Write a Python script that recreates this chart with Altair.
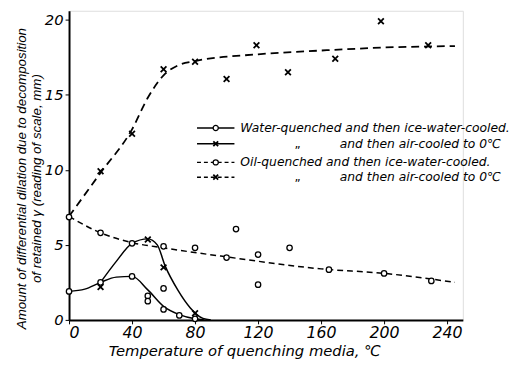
import altair as alt
import pandas as pd

# --- measured points (x: temperature °C, y: dilation mm) ---
wi_x = [0, 20, 40, 50, 50, 60, 60, 70, 80]
wi_y = [1.9, 2.5, 2.9, 1.6, 1.25, 2.1, 0.7, 0.3, 0.07]
wa_x = [20, 50, 60, 80]
wa_y = [2.2, 5.35, 3.5, 0.45]
oi_x = [0, 20, 40, 60, 80, 100, 106, 120, 120, 140, 165, 200, 230]
oi_y = [6.85, 5.8, 5.1, 4.9, 4.8, 4.15, 6.05, 4.35, 2.35, 4.8, 3.35, 3.1, 2.6]
oa_x = [20, 40, 60, 80, 100, 119, 139, 169, 198, 228]
oa_y = [9.9, 12.4, 16.7, 17.2, 16.05, 18.3, 16.5, 17.4, 19.9, 18.3]

# --- drawn curves ---
wi_cx = [0, 10, 20, 30, 40, 50, 60, 70, 80, 86]
wi_cy = [1.9, 2.05, 2.5, 2.85, 2.9, 2.0, 0.9, 0.35, 0.07, 0.0]
wa_cx = [20, 30, 40, 50, 56, 61, 69, 77, 85, 90]
wa_cy = [2.5, 3.9, 5.1, 5.4, 5.0, 3.6, 2.0, 0.8, 0.1, 0.0]
oi_cx = [0, 20, 40, 60, 100, 160, 200, 245]
oi_cy = [6.9, 5.8, 5.15, 4.8, 4.2, 3.4, 3.1, 2.5]
oa_cx = [0, 20, 40, 50, 60, 70, 80, 120, 160, 200, 245]
oa_cy = [6.9, 9.8, 12.7, 14.8, 16.3, 17.0, 17.25, 17.7, 17.95, 18.15, 18.25]

FONT = "DejaVu Sans"
XMARK = "M-1,-1L1,1M-1,1L1,-1"
X = alt.Scale(domain=[0, 250], nice=False)
Y = alt.Scale(domain=[0, 20.6], nice=False)

def df(xs, ys):
    return pd.DataFrame({"t": xs, "v": ys})

xenc = alt.X("t:Q", scale=X, axis=alt.Axis(
    values=[0, 40, 80, 120, 160, 200, 240], grid=False,
    title="Temperature of quenching media,  ℃", titleFont=FONT, titleFontStyle="italic",
    titleFontWeight="normal", titleFontSize=15, titlePadding=3, titleX=178,
    labelFont=FONT, labelFontStyle="italic", labelFontSize=16, labelPadding=1,
    tickSize=4, tickColor="black", domainColor="black", domainWidth=2,
    labelColor="black", titleColor="black"))
yenc = alt.Y("v:Q", scale=Y, axis=alt.Axis(
    values=[0, 5, 10, 15, 20], grid=False,
    title=["Amount of differential dilation due to decomposition",
           "of retained γ  (reading of scale, mm)"],
    titleFont="Liberation Sans", titleFontStyle="italic", titleFontWeight="normal",
    titleFontSize=13.5, titleLineHeight=15, titleX=-44, titleY=170,
    titleAngle=-90, titleAlign="center", titleBaseline="alphabetic",
    labelFont=FONT, labelFontStyle="italic", labelFontSize=15, labelPadding=2,
    tickSize=4, tickColor="black", domainColor="black", domainWidth=2,
    labelColor="black", titleColor="black"))

def curve(xs, ys, dash=None, width=1.5):
    kw = dict(color="black", strokeWidth=width, interpolate="monotone")
    if dash:
        kw["strokeDash"] = dash
    return alt.Chart(df(xs, ys)).mark_line(**kw).encode(x=xenc, y=yenc)

def circles(xs, ys):
    return alt.Chart(df(xs, ys)).mark_point(shape="circle", size=30, color="black",
                                           strokeWidth=1.3, fill="white", filled=False,
                                           opacity=1).encode(x=xenc, y=yenc)

def crosses(xs, ys):
    return alt.Chart(df(xs, ys)).mark_point(shape=XMARK, size=34, color="black",
                                           strokeWidth=1.8, filled=False,
                                           opacity=1).encode(x=xenc, y=yenc)

layers = [
    curve(wi_cx, wi_cy), curve(wa_cx, wa_cy),
    curve(oi_cx, oi_cy, dash=[6, 4]), curve(oa_cx, oa_cy, dash=[8, 5], width=1.8),
    circles(wi_x, wi_y), crosses(wa_x, wa_y), circles(oi_x, oi_y), crosses(oa_x, oa_y),
]

# --- hand-drawn style legend (pixel positions inside plot) ---
leg_rows = [
    ("Water-quenched and then ice-water-cooled.", None, "o", None),
    ("and then air-cooled to 0℃", "„", "x", None),
    ("Oil-quenched and then ice-water-cooled.", None, "o", [4, 3]),
    ("and then air-cooled to 0℃", "„", "x", [4, 3]),
]
row_y = [119, 135, 154, 169]
one = pd.DataFrame({"a": [0]})
for (txt, ditto, sym, dash), yy in zip(leg_rows, row_y):
    rk = dict(color="black", strokeWidth=1.5)
    if dash:
        rk["strokeDash"] = dash
    layers.append(alt.Chart(one).mark_rule(**rk).encode(
        x=alt.value(130), x2=alt.value(168), y=alt.value(yy)))
    if sym == "o":
        layers.append(alt.Chart(one).mark_point(shape="circle", size=28, color="black",
                                                fill="white", filled=False, strokeWidth=1.3,
                                                opacity=1).encode(x=alt.value(149), y=alt.value(yy)))
    else:
        layers.append(alt.Chart(one).mark_point(shape=XMARK, size=24, color="black",
                                                filled=False, strokeWidth=1.8,
                                                opacity=1).encode(x=alt.value(149), y=alt.value(yy)))
    tx = 174 if ditto is None else 275
    layers.append(alt.Chart(one).mark_text(text=txt, align="left", baseline="middle",
                                           font=FONT, fontStyle="italic", fontSize=12.5,
                                           color="black").encode(x=alt.value(tx), y=alt.value(yy)))
    if ditto:
        layers.append(alt.Chart(one).mark_text(text=ditto, align="center", baseline="middle",
                                               font=FONT, fontSize=12, color="black").encode(
            x=alt.value(232), y=alt.value(yy)))

chart = alt.layer(*layers).properties(
    width=400, height=314,
    autosize=alt.AutoSizeParams(type="none"),
    padding={"left": 62, "top": 0, "right": 54, "bottom": 43},
).configure_view(stroke=None).configure(background="white")

chart.save("out.html", embed_options={"renderer": "svg", "actions": False})
